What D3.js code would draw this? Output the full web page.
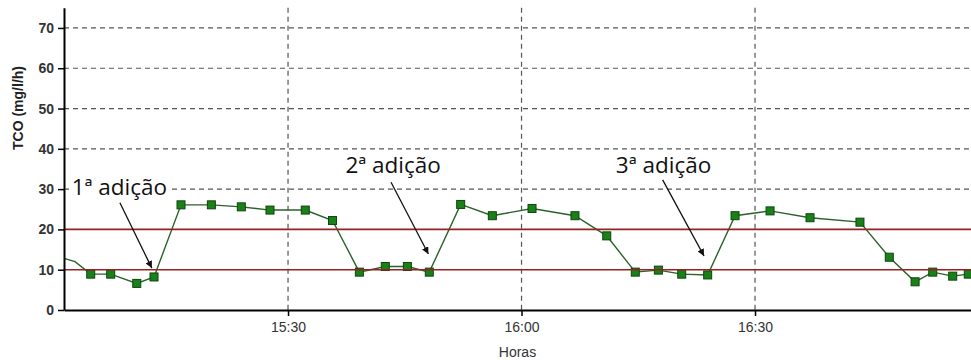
<!DOCTYPE html>
<html>
<head>
<meta charset="utf-8">
<script src="https://cdn.jsdelivr.net/npm/d3@7/dist/d3.min.js"></script>
<style>
  html, body { margin: 0; padding: 0; background: #fff; }
  svg { display: block; }
</style>
</head>
<body>
<svg id="chart" width="971" height="360"></svg>
<script>
// ---- data ----
const xDomain = ["15:01:13", "16:57:45"];
const yDomain = [0, 75];
const yTicks = [0, 10, 20, 30, 40, 50, 60, 70];
const xTicks = ["15:30:00", "16:00:00", "16:30:00"];
const limitValues = [10, 20];

// line start (no markers, runs in from the left edge)
const leadTimes = ["15:01:13", "15:02:38"];
const leadValues = [12.8, 12.0];

// measured points (with markers)
const times = [
  "15:04:39", "15:07:13", "15:10:34", "15:12:47", "15:16:15", "15:20:09",
  "15:24:00", "15:27:41", "15:32:13", "15:35:43", "15:39:10", "15:42:30",
  "15:45:20", "15:48:09", "15:52:11", "15:56:15", "16:01:21", "16:06:52",
  "16:10:57", "16:14:37", "16:17:35", "16:20:35", "16:23:55", "16:27:26",
  "16:31:56", "16:37:04", "16:43:29", "16:47:15", "16:50:34", "16:52:50",
  "16:55:24", "16:57:24"
];
const values = [
  8.9, 8.9, 6.6, 8.2, 26.1, 26.1,
  25.6, 24.8, 24.8, 22.2, 9.4, 10.8,
  10.8, 9.4, 26.2, 23.4, 25.2, 23.4,
  18.4, 9.4, 9.9, 8.9, 8.7, 23.4,
  24.6, 22.9, 21.8, 13.1, 7.0, 9.4,
  8.4, 8.9
];

// annotations: label position and arrow (time, value)
const annLabels = ["1ª adição", "2ª adição", "3ª adição"];
const annTextTime = ["15:08:20", "15:43:30", "16:18:15"];
const annTextValue = [30.6, 36.0, 36.0];
const annFromTime = ["15:08:24", "15:43:14", "16:18:08"];
const annFromValue = [26.6, 31.7, 32.3];
const annToTime = ["15:12:30", "15:48:02", "16:23:27"];
const annToValue = [10.4, 13.9, 13.4];

const yTitle = "TCO (mg/l/h)";
const xTitle = "Horas";

// ---- drawing ----
const parse = d3.timeParse("%H:%M:%S");
const mLeft = 64, mRight = 971, mTop = 7.8, mBottom = 310;

const svg = d3.select("#chart");
const x = d3.scaleTime().domain(xDomain.map(parse)).range([mLeft, mRight]);
const y = d3.scaleLinear().domain(yDomain).range([mBottom, mTop]);

const font = "'Liberation Sans', Arial, sans-serif";

// horizontal dashed grid
svg.append("g").selectAll("line")
  .data(yTicks.filter(v => v > 0 && !limitValues.includes(v)))
  .join("line")
  .attr("x1", mLeft).attr("x2", mRight)
  .attr("y1", d => y(d)).attr("y2", d => y(d))
  .attr("stroke", "#555").attr("stroke-width", 1.2)
  .attr("stroke-dasharray", "5,4");

// vertical dashed grid
svg.append("g").selectAll("line")
  .data(xTicks.map(parse))
  .join("line")
  .attr("x1", d => x(d)).attr("x2", d => x(d))
  .attr("y1", mTop).attr("y2", mBottom)
  .attr("stroke", "#555").attr("stroke-width", 1.2)
  .attr("stroke-dasharray", "5,4");

// series
const lead = leadTimes.map((t, i) => ({ t: parse(t), v: leadValues[i] }));
const pts = times.map((t, i) => ({ t: parse(t), v: values[i] }));
const all = lead.concat(pts);

svg.append("path")
  .datum(all)
  .attr("fill", "none")
  .attr("stroke", "#2a622a")
  .attr("stroke-width", 1.4)
  .attr("d", d3.line().x(d => x(d.t)).y(d => y(d.v)));

const ms = 8;
svg.append("g").selectAll("rect")
  .data(pts)
  .join("rect")
  .attr("x", d => x(d.t) - ms / 2)
  .attr("y", d => y(d.v) - ms / 2)
  .attr("width", ms).attr("height", ms)
  .attr("fill", "#1a801a")
  .attr("stroke", "#0c460c")
  .attr("stroke-width", 1);

// limit lines (drawn over markers)
svg.append("g").selectAll("line")
  .data(limitValues)
  .join("line")
  .attr("x1", mLeft).attr("x2", mRight)
  .attr("y1", d => y(d)).attr("y2", d => y(d))
  .attr("stroke", "#962222").attr("stroke-width", 1.6);

// axes
const yAxis = svg.append("g")
  .attr("transform", `translate(${mLeft},0)`)
  .call(d3.axisLeft(y).tickValues(yTicks).tickSize(6).tickSizeOuter(0).tickPadding(4));
yAxis.select(".domain").attr("stroke", "#000").attr("stroke-width", 2);
yAxis.selectAll(".tick line").attr("stroke", "#000").attr("stroke-width", 1.5);
yAxis.selectAll(".tick text")
  .attr("font-family", font).attr("font-size", 14).attr("font-weight", "bold")
  .attr("fill", "#333");

const xAxis = svg.append("g")
  .attr("transform", `translate(0,${mBottom})`)
  .call(d3.axisBottom(x).tickValues(xTicks.map(parse))
    .tickFormat(d3.timeFormat("%H:%M")).tickSize(6).tickSizeOuter(0).tickPadding(6));
xAxis.select(".domain").attr("stroke", "#000").attr("stroke-width", 2);
xAxis.selectAll(".tick line").attr("stroke", "#000").attr("stroke-width", 1.5);
xAxis.selectAll(".tick text")
  .attr("font-family", font).attr("font-size", 14)
  .attr("fill", "#333");

// axis titles
svg.append("text")
  .attr("transform", `translate(18,108) rotate(-90)`)
  .attr("text-anchor", "middle")
  .attr("dominant-baseline", "central")
  .attr("font-family", font).attr("font-size", 14).attr("font-weight", "bold")
  .attr("fill", "#222")
  .text(yTitle);

svg.append("text")
  .attr("x", (mLeft + mRight) / 2).attr("y", 357)
  .attr("text-anchor", "middle")
  .attr("font-family", font).attr("font-size", 14)
  .attr("fill", "#333")
  .text(xTitle);

// arrowhead
svg.append("defs").append("marker")
  .attr("id", "arrow")
  .attr("viewBox", "0 0 10 10")
  .attr("refX", 10).attr("refY", 5)
  .attr("markerWidth", 7).attr("markerHeight", 7)
  .attr("markerUnits", "userSpaceOnUse")
  .attr("orient", "auto")
  .append("path").attr("d", "M0,0 L10,5 L0,10 Z").attr("fill", "#111");

// annotations
const ann = annLabels.map((l, i) => ({
  label: l,
  tx: x(parse(annTextTime[i])), ty: y(annTextValue[i]),
  x1: x(parse(annFromTime[i])), y1: y(annFromValue[i]),
  x2: x(parse(annToTime[i])), y2: y(annToValue[i])
}));

const ag = svg.append("g");
ann.forEach(a => {
  ag.append("line")
    .attr("x1", a.x1).attr("y1", a.y1).attr("x2", a.x2).attr("y2", a.y2)
    .attr("stroke", "#111").attr("stroke-width", 1.3)
    .attr("marker-end", "url(#arrow)");
  const t = ag.append("text")
    .attr("x", a.tx).attr("y", a.ty)
    .attr("text-anchor", "middle")
    .attr("dominant-baseline", "central")
    .attr("font-family", "'Open Sans', 'Noto Sans', sans-serif")
    .attr("font-size", 22.5)
    .attr("fill", "#111")
    .text(a.label);
  const bb = t.node().getBBox();
  ag.insert("rect", () => t.node())
    .attr("x", bb.x - 2).attr("y", bb.y + 3)
    .attr("width", bb.width + 4).attr("height", bb.height - 6)
    .attr("fill", "#fff");
});
</script>
</body>
</html>
